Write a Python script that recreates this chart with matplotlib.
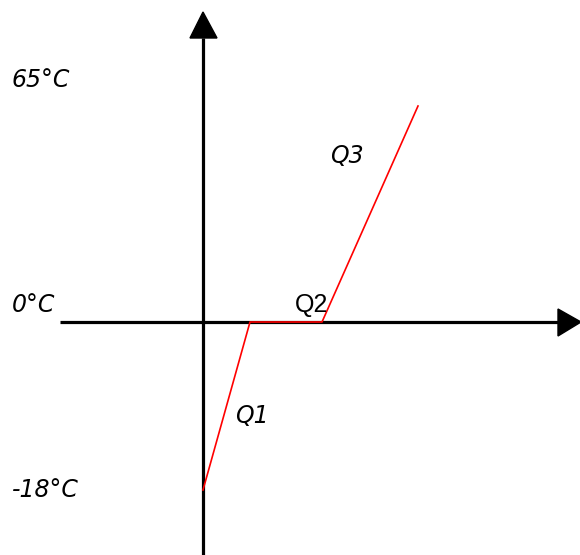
import matplotlib.pyplot as plt
from matplotlib.patches import Polygon

# schematic heating curve (not to scale): heat added vs temperature
heat = [0, 47, 119, 215]
temp = [-168, 0, 0, 216]
temp_labels = ["65°C", "0°C", "-18°C"]
temp_label_y = [242, 17, -168]
stage_labels = ["Q1", "Q2", "Q3"]
stage_x = [32, 92, 127]
stage_y = [-94, 17, 166]

fig = plt.figure(figsize=(5.8, 5.55), dpi=100)
ax = fig.add_axes([0, 0, 1, 1])
ax.set_xlim(-203, 377)
ax.set_ylim(-233, 322)
ax.axis("off")

# axes lines with arrowheads
ax.plot([-143, 355], [0, 0], color="black", lw=2.3, solid_capstyle="butt")
ax.plot([0, 0], [-233, 284], color="black", lw=2.3, solid_capstyle="butt")
ax.add_patch(Polygon([[355, 13], [355, -14], [378, 0]], closed=True, color="black"))
ax.add_patch(Polygon([[-13, 284], [14, 284], [0, 310]], closed=True, color="black"))

ax.plot(heat, temp, color="red", lw=1.2, zorder=3)

for lab, y in zip(temp_labels, temp_label_y):
    ax.text(-191, y, lab, fontsize=17, style="italic", family="DejaVu Sans",
            ha="left", va="center")

for lab, x, y in zip(stage_labels, stage_x, stage_y):
    if lab == "Q2":
        ax.text(x, y, lab, fontsize=18, family="Liberation Sans", ha="left", va="center")
    else:
        ax.text(x, y, lab, fontsize=17, style="italic", family="DejaVu Sans",
                ha="left", va="center")

fig.savefig("out.png", dpi=100)
